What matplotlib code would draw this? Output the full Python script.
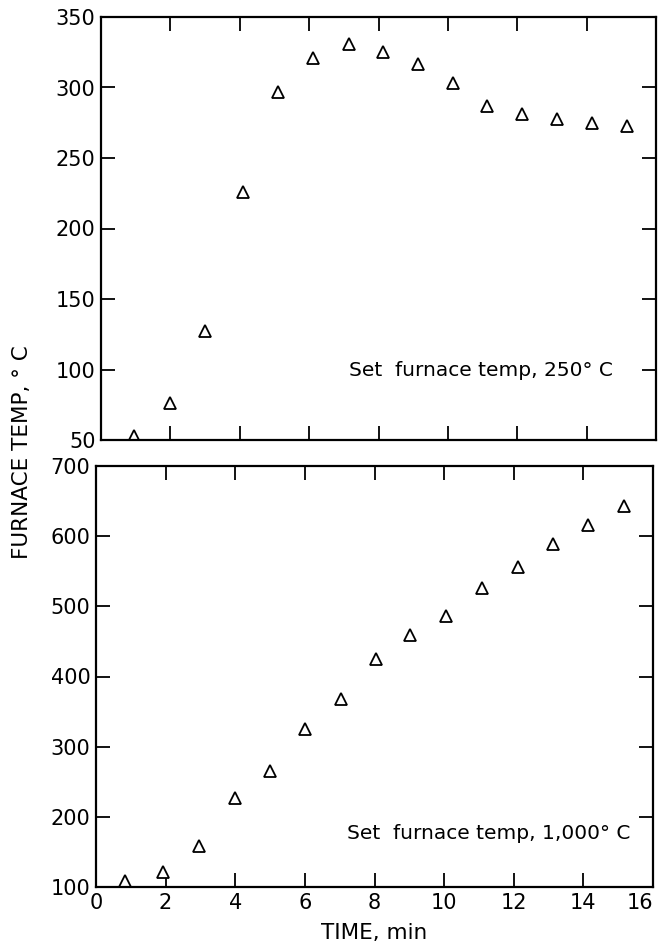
import matplotlib
matplotlib.use("Agg")
import matplotlib.pyplot as plt

# set furnace temp 250 C
time_250 = [0.95, 2.0, 3.0, 4.1, 5.1, 6.1, 7.15, 8.13, 9.15, 10.15, 11.12, 12.15, 13.15, 14.15, 15.15]
temp_250 = [53, 76, 127, 226, 297, 321, 331, 325, 317, 303, 287, 281, 278, 275, 273]

# set furnace temp 1000 C
time_1000 = [0.82, 1.93, 2.96, 4.0, 5.0, 6.0, 7.03, 8.04, 9.03, 10.05, 11.1, 12.12, 13.13, 14.14, 15.16]
temp_1000 = [108, 122, 159, 227, 265, 325, 368, 425, 459, 486, 526, 556, 589, 616, 643]

x_ticks = [0, 2, 4, 6, 8, 10, 12, 14, 16]
y_ticks_top = [50, 100, 150, 200, 250, 300, 350]
y_ticks_bottom = [100, 200, 300, 400, 500, 600, 700]

plt.rcParams["font.family"] = "DejaVu Sans"

W, H = 658, 948
fig = plt.figure(figsize=(W / 100, H / 100), dpi=100)

ax1 = fig.add_axes([101 / W, 1 - 440 / H, (656 - 101) / W, (440 - 17) / H])
ax2 = fig.add_axes([96 / W, 1 - 887 / H, (653 - 96) / W, (887 - 466) / H])


def style(ax):
    for s in ax.spines.values():
        s.set_linewidth(1.6)
        s.set_color("black")
    ax.tick_params(direction="in", length=10, width=1.3, top=True, right=True,
                   labelsize=15, pad=4, colors="black")
    ax.set_xlim(0, 16)
    ax.set_xticks(x_ticks)


ax1.plot(time_250, temp_250, linestyle="none", marker="^", markersize=8,
         markerfacecolor="white", markeredgecolor="black", markeredgewidth=1.3)
style(ax1)
ax1.set_ylim(50, 350)
ax1.set_yticks(y_ticks_top)
ax1.tick_params(labelbottom=False)
ax1.text(0.922, 0.165, "Set  furnace temp, 250° C", transform=ax1.transAxes,
         ha="right", va="center", fontsize=14.5)

ax2.plot(time_1000, temp_1000, linestyle="none", marker="^", markersize=8,
         markerfacecolor="white", markeredgecolor="black", markeredgewidth=1.3)
style(ax2)
ax2.set_ylim(100, 700)
ax2.set_yticks(y_ticks_bottom)
# keep the last tick label inside the figure edge
ax2.get_xticklabels()[-1].set_horizontalalignment("right")
ax2.text(0.96, 0.128, "Set  furnace temp, 1,000° C", transform=ax2.transAxes,
         ha="right", va="center", fontsize=14.5)

fig.text(374 / W, 1 - 933 / H, "TIME, min", ha="center", va="center", fontsize=15.5)
fig.text(22 / W, 1 - 452 / H, "FURNACE TEMP, ° C", ha="center", va="center",
         rotation=90, fontsize=15.5)

fig.savefig("out.png", dpi=100)
